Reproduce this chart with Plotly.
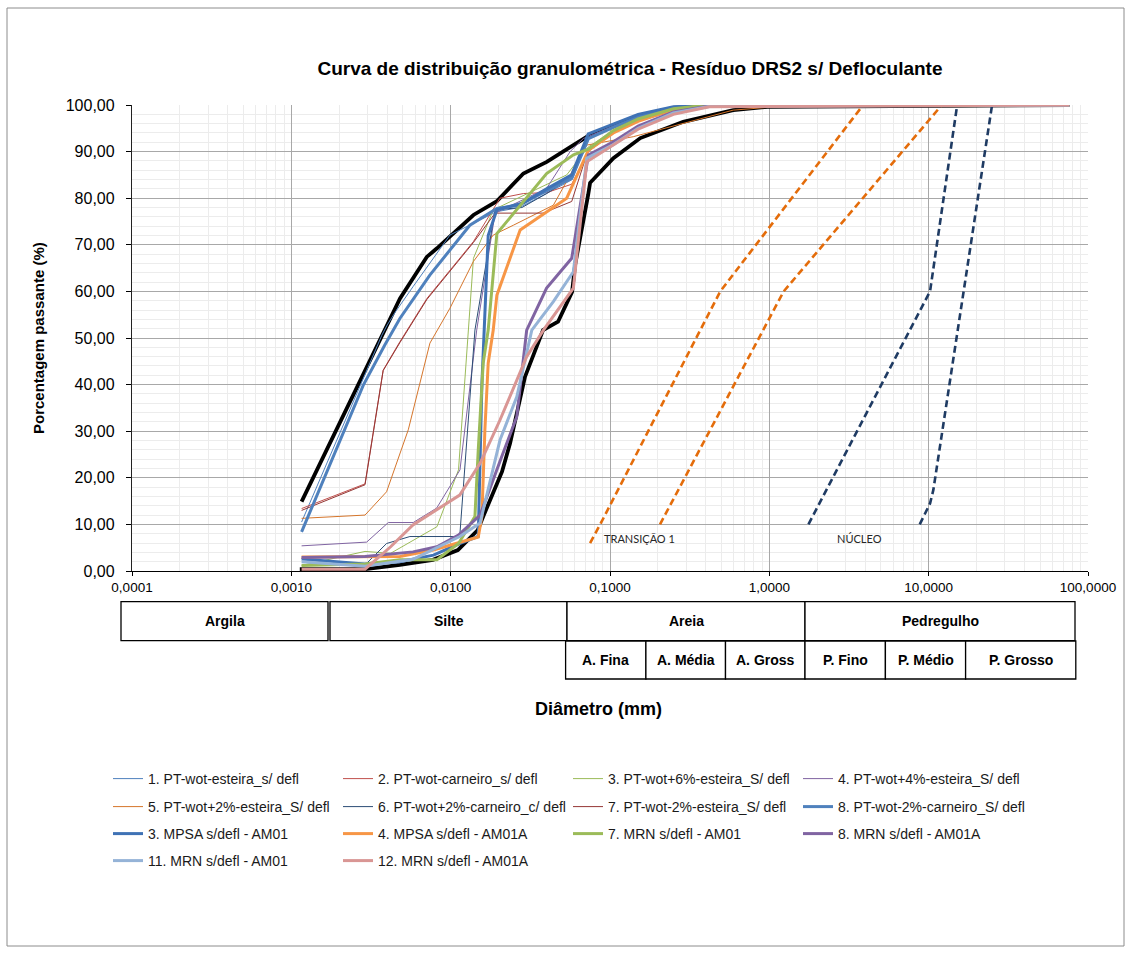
import math
import plotly.graph_objects as go

# ---------------- data (diameter in mm, percent passing) ----------------
x_tick_vals = [0.0001, 0.001, 0.01, 0.1, 1, 10, 100]
x_tick_text = ["0,0001", "0,0010", "0,0100", "0,1000", "1,0000", "10,0000", "100,0000"]
y_tick_vals = [0, 10, 20, 30, 40, 50, 60, 70, 80, 90, 100]
y_tick_text = ["0,00", "10,00", "20,00", "30,00", "40,00", "50,00", "60,00", "70,00", "80,00", "90,00", "100,00"]

# envelope curves (black, no legend)
env_fine_d = [0.00116, 0.00386, 0.00481, 0.00708, 0.00817, 0.0139, 0.0194, 0.0286, 0.0401, 0.0589, 0.075, 0.105, 0.15, 0.25, 0.42, 76.2]
env_fine_p = [14.9, 51.7, 58.5, 67.4, 69.2, 76.4, 79.3, 85.3, 87.8, 91.4, 93.6, 95.4, 97.5, 99.4, 100, 100]
env_coarse_d = [0.00113, 0.0029, 0.0048, 0.00774, 0.0111, 0.0148, 0.016, 0.021, 0.0236, 0.0293, 0.038, 0.0472, 0.0578, 0.0604, 0.0729, 0.075, 0.105, 0.155, 0.288, 0.593, 0.97, 76.2]
env_coarse_p = [0.4, 0.4, 1.3, 2.4, 4.5, 8.8, 11.7, 21.3, 27.4, 41.7, 51.7, 53.5, 59.9, 65.7, 80.7, 83.3, 88.6, 92.9, 96.4, 98.9, 99.6, 100]

# filter zone limits (dashed, no legend)
trans_a_d = [0.075, 0.0868, 0.492, 3.88]
trans_a_p = [6, 10, 60, 100]
trans_b_d = [0.206, 1.23, 12.1]
trans_b_p = [10, 60, 100]
nucleo_a_d = [1.76, 10.2, 15.1]
nucleo_a_p = [10, 60, 100]
nucleo_b_d = [8.79, 10.2, 10.7, 25.0]
nucleo_b_p = [10, 14.5, 17.4, 100]

# laboratory curves
pt1_d = [0.00116, 0.0029, 0.0037, 0.0040, 0.0045, 0.0058, 0.0099, 0.0194, 0.027, 0.040, 0.058, 0.073, 0.105, 0.15, 0.25, 0.42, 76.2]
pt1_p = [10.5, 42.0, 50.6, 52.8, 55.6, 61.0, 72.1, 77.1, 78.0, 81.0, 84.0, 93.0, 95.5, 97.5, 99.2, 100, 100]
pt2_d = [0.00116, 0.0029, 0.00377, 0.0048, 0.0071, 0.0139, 0.0204, 0.0286, 0.040, 0.0575, 0.0732, 0.105, 0.15, 0.25, 0.42, 76.2]
pt2_p = [13.4, 18.7, 43.1, 49.2, 58.5, 70.7, 80.0, 81.0, 81.2, 83.0, 90.0, 94.0, 96.5, 98.7, 99.8, 100]
pt3_d = [0.00116, 0.0029, 0.0042, 0.0082, 0.0112, 0.0129, 0.0139, 0.0185, 0.0535, 0.073, 0.105, 0.15, 0.25, 0.42, 76.2]
pt3_p = [1.2, 4.2, 3.8, 9.5, 21.7, 51.7, 67.1, 77.5, 85.0, 91.0, 94.5, 97.0, 99.0, 100, 100]
pt4_d = [0.00116, 0.00297, 0.00406, 0.00582, 0.00817, 0.01144, 0.01457, 0.019, 0.040, 0.0562, 0.068, 0.105, 0.15, 0.25, 0.42, 76.2]
pt4_p = [5.4, 6.2, 10.4, 10.4, 13.5, 21.7, 51.7, 76.8, 82.1, 90.0, 92.8, 95.5, 97.5, 99.3, 100, 100]
pt5_d = [0.00116, 0.0029, 0.00396, 0.0048, 0.00542, 0.00741, 0.0099, 0.01387, 0.01852, 0.02474, 0.033, 0.0441, 0.0715, 0.14, 0.593, 1.5, 76.2]
pt5_p = [11.3, 12.0, 17.0, 25.3, 30.3, 48.9, 56.4, 66.4, 72.1, 74.2, 76.4, 78.5, 91.4, 93.2, 98.9, 100, 100]
pt6_d = [0.00116, 0.0029, 0.00396, 0.00555, 0.0114, 0.0142, 0.019, 0.028, 0.040, 0.0575, 0.073, 0.105, 0.15, 0.25, 0.42, 76.2]
pt6_p = [2.7, 1.3, 5.9, 7.4, 7.4, 51.7, 77.5, 78.0, 81.0, 84.5, 93.5, 96.0, 98.0, 99.5, 100, 100]
pt7_d = [0.00116, 0.0029, 0.00377, 0.0048, 0.0071, 0.0139, 0.019, 0.038, 0.0575, 0.0732, 0.105, 0.15, 0.25, 0.42, 76.2]
pt7_p = [13.0, 18.5, 43.0, 49.0, 58.3, 70.5, 76.8, 76.8, 79.3, 90.5, 94.5, 97.0, 99.0, 100, 100]
pt8_d = [0.00116, 0.00283, 0.00386, 0.0048, 0.0074, 0.0132, 0.0195, 0.0266, 0.0575, 0.0732, 0.105, 0.15, 0.25, 0.42, 76.2]
pt8_p = [8.4, 39.9, 48.5, 54.2, 63.5, 74.2, 77.8, 78.5, 84.3, 92.8, 95.2, 97.5, 99.3, 100, 100]
mpsa_am01_d = [0.00116, 0.0029, 0.0048, 0.0078, 0.0114, 0.0149, 0.0157, 0.0172, 0.0195, 0.0286, 0.040, 0.0575, 0.073, 0.105, 0.15, 0.25, 0.42, 76.2]
mpsa_am01_p = [2.6, 1.5, 2.0, 3.4, 5.9, 7.4, 40.0, 72.0, 77.5, 79.0, 82.0, 85.0, 93.8, 96.0, 98.0, 99.6, 100, 100]
mpsa_am01a_d = [0.00116, 0.0029, 0.0048, 0.0078, 0.0149, 0.0157, 0.0164, 0.0172, 0.0185, 0.0195, 0.0273, 0.0535, 0.0732, 0.105, 0.15, 0.25, 0.42, 76.2]
mpsa_am01a_p = [3.0, 3.0, 3.1, 4.5, 7.3, 11.7, 30.3, 44.6, 51.7, 59.2, 73.2, 80.0, 90.3, 94.0, 96.5, 99.0, 100, 100]
mrn7_d = [0.00116, 0.0029, 0.0048, 0.0082, 0.0112, 0.0142, 0.0149, 0.016, 0.0172, 0.0195, 0.040, 0.059, 0.0732, 0.105, 0.15, 0.25, 0.42, 76.2]
mrn7_p = [1.2, 1.5, 2.4, 2.4, 5.9, 11.7, 26.0, 44.6, 51.7, 72.4, 85.3, 89.3, 90.5, 94.5, 97.0, 99.2, 100, 100]
mrn8_d = [0.00116, 0.0029, 0.0058, 0.0082, 0.0112, 0.0153, 0.0209, 0.026, 0.030, 0.040, 0.0575, 0.0732, 0.105, 0.15, 0.25, 0.42, 76.2]
mrn8_p = [2.9, 3.1, 4.1, 5.2, 7.7, 12.0, 24.5, 33.1, 51.7, 60.7, 67.1, 89.3, 92.1, 95.5, 98.5, 99.8, 100]
mrn11_d = [0.00116, 0.0029, 0.0058, 0.0114, 0.0153, 0.0204, 0.026, 0.0323, 0.0441, 0.0589, 0.0715, 0.105, 0.15, 0.25, 0.42, 76.2]
mrn11_p = [2.0, 1.0, 2.5, 7.4, 10.3, 28.1, 37.4, 51.7, 57.8, 64.2, 88.6, 91.5, 95.0, 98.3, 99.7, 100]
mrn12_d = [0.00116, 0.0029, 0.0042, 0.0058, 0.0114, 0.0153, 0.0204, 0.030, 0.0382, 0.0589, 0.0715, 0.105, 0.15, 0.25, 0.42, 76.2]
mrn12_p = [0.4, 0.4, 5.2, 9.9, 16.3, 23.1, 32.4, 46.0, 51.7, 60.7, 87.8, 91.4, 94.8, 98.0, 99.6, 100]

# soil classification table
class_top = ["Argila", "Silte", "Areia", "Pedregulho"]
class_bottom = ["A. Fina", "A. Média", "A. Gross", "P. Fino", "P. Médio", "P. Grosso"]

# zone labels
zone_labels = ["TRANSIÇÃO 1", "NÚCLEO"]
zone_label_d = [0.089, 2.59]
zone_label_p = [6.9, 6.9]

# ---------------- layout helpers ----------------
W, H = 1132, 953
PL, PR, PT, PB = 132, 1088, 105, 571
FONT = "Liberation Sans, Arial, Helvetica, sans-serif"


def fx(x):
    return (x - PL) / (PR - PL)


def fy(y):
    return (PB - y) / (PB - PT)


fig = go.Figure()

# envelopes first (drawn underneath)
for d, p in [(env_fine_d, env_fine_p), (env_coarse_d, env_coarse_p)]:
    fig.add_trace(go.Scatter(x=d, y=p, mode="lines", showlegend=False, hoverinfo="skip",
                             line=dict(color="#000000", width=3.8)))

for d, p, c in [(trans_a_d, trans_a_p, "#E46C0A"), (trans_b_d, trans_b_p, "#E46C0A"),
                (nucleo_a_d, nucleo_a_p, "#1F3B63"), (nucleo_b_d, nucleo_b_p, "#1F3B63")]:
    fig.add_trace(go.Scatter(x=d, y=p, mode="lines", showlegend=False, hoverinfo="skip",
                             line=dict(color=c, width=2.6, dash="7px,4px")))

series = [
    ("1. PT-wot-esteira_s/ defl", pt1_d, pt1_p, "#4F81BD", 1.0, "legend"),
    ("2. PT-wot-carneiro_s/ defl", pt2_d, pt2_p, "#C0504D", 1.0, "legend"),
    ("3. PT-wot+6%-esteira_S/ defl", pt3_d, pt3_p, "#9BBB59", 1.0, "legend"),
    ("4. PT-wot+4%-esteira_S/ defl", pt4_d, pt4_p, "#8064A2", 1.0, "legend"),
    ("5. PT-wot+2%-esteira_S/ defl", pt5_d, pt5_p, "#D5752B", 1.0, "legend2"),
    ("6. PT-wot+2%-carneiro_c/ defl", pt6_d, pt6_p, "#2C4D75", 1.0, "legend2"),
    ("7. PT-wot-2%-esteira_S/ defl", pt7_d, pt7_p, "#953735", 1.0, "legend2"),
    ("8. PT-wot-2%-carneiro_S/ defl", pt8_d, pt8_p, "#4F81BD", 3.0, "legend2"),
    ("3. MPSA s/defl - AM01", mpsa_am01_d, mpsa_am01_p, "#3F72B5", 3.0, "legend3"),
    ("4. MPSA s/defl - AM01A", mpsa_am01a_d, mpsa_am01a_p, "#F79646", 3.0, "legend3"),
    ("7. MRN s/defl - AM01", mrn7_d, mrn7_p, "#9BBB59", 3.0, "legend3"),
    ("8. MRN s/defl - AM01A", mrn8_d, mrn8_p, "#8064A2", 3.0, "legend3"),
    ("11. MRN s/defl - AM01", mrn11_d, mrn11_p, "#95B3D7", 3.0, "legend4"),
    ("12. MRN s/defl - AM01A", mrn12_d, mrn12_p, "#D99694", 3.0, "legend4"),
]
for name, d, p, color, w, leg in series:
    fig.add_trace(go.Scatter(x=d, y=p, mode="lines", name=name, legend=leg,
                             line=dict(color=color, width=w)))

# minor gridlines positions (2..9 of each decade)
minor_x = [k * 10.0 ** e for e in range(-4, 2) for k in range(2, 10)]

fig.update_layout(
    width=W, height=H,
    margin=dict(l=PL, r=W - PR, t=PT, b=H - PB, autoexpand=False),
    paper_bgcolor="white", plot_bgcolor="white",
    font=dict(family=FONT, color="#000000"),
    title=dict(text="<b>Curva de distribuição granulométrica - Resíduo DRS2 s/ Defloculante</b>",
               x=fx(630), xref="paper", xanchor="center", y=1 - 68 / H, yanchor="middle",
               font=dict(size=19, family=FONT, color="#000000")),
    xaxis=dict(type="log", range=[-4, 2], tickmode="array", tickvals=x_tick_vals, ticktext=x_tick_text,
               ticks="outside", ticklen=4, tickcolor="#000000", tickwidth=1,
               showline=True, linecolor="#000000", linewidth=1.3,
               showgrid=True, gridcolor="#A8A8A8", gridwidth=1, zeroline=False,
               tickfont=dict(size=13.5, family=FONT, color="#000000"),
               minor=dict(tickmode="array", tickvals=minor_x, showgrid=True,
                          gridcolor="#ECECEC", gridwidth=1, ticks="")),
    yaxis=dict(range=[0, 100], tickmode="array", tickvals=y_tick_vals, ticktext=y_tick_text,
               ticks="outside", ticklen=5, tickcolor="#000000", tickwidth=1,
               showline=True, linecolor="#222222", linewidth=1.3,
               showgrid=True, gridcolor="#A8A8A8", gridwidth=1, zeroline=False,
               tickfont=dict(size=16, family=FONT, color="#000000"), ticklabelstandoff=8,
               minor=dict(dtick=2, showgrid=True, gridcolor="#ECECEC", gridwidth=1, ticks="")),
    showlegend=True,
)

row_y = [779, 807, 834, 861]
for i, lg in enumerate(["legend", "legend2", "legend3", "legend4"]):
    fig.update_layout({lg: dict(orientation="h", x=fx(108), xanchor="left", xref="paper",
                                y=fy(row_y[i]), yanchor="middle", yref="paper",
                                entrywidth=185, entrywidthmode="pixels", itemwidth=30,
                                bgcolor="rgba(0,0,0,0)", borderwidth=0, traceorder="normal",
                                font=dict(size=14, family=FONT, color="#1A1A1A"))})

shapes = []
annotations = []

# outer chart border
shapes.append(dict(type="rect", xref="paper", yref="paper", x0=fx(7), x1=fx(1124), y0=fy(946), y1=fy(8),
                   line=dict(color="#8C8C8C", width=1), fillcolor="rgba(0,0,0,0)", layer="below"))

# classification table (pixel edges -> paper)
top_edges = [(121, 328), (330, 567), (567, 805), (805, 1075)]
bot_edges = [565.6, 645.9, 725.5, 805, 885.4, 965.6, 1075.8]
r1 = (601.7, 640.7)
r2 = (641.0, 679.0)
for (a, b), lab in zip(top_edges, class_top):
    shapes.append(dict(type="rect", xref="paper", yref="paper", x0=fx(a), x1=fx(b), y0=fy(r1[1]), y1=fy(r1[0]),
                       line=dict(color="#000000", width=1.3), fillcolor="white"))
    annotations.append(dict(text="<b>%s</b>" % lab, xref="paper", yref="paper", x=fx((a + b) / 2),
                            y=fy(sum(r1) / 2), showarrow=False, xanchor="center", yanchor="middle",
                            font=dict(size=14, family=FONT, color="#000000")))
for i, lab in enumerate(class_bottom):
    a, b = bot_edges[i], bot_edges[i + 1]
    shapes.append(dict(type="rect", xref="paper", yref="paper", x0=fx(a), x1=fx(b), y0=fy(r2[1]), y1=fy(r2[0]),
                       line=dict(color="#000000", width=1.3), fillcolor="white"))
    annotations.append(dict(text="<b>%s</b>" % lab, xref="paper", yref="paper", x=fx((a + b) / 2),
                            y=fy(sum(r2) / 2), showarrow=False, xanchor="center", yanchor="middle",
                            font=dict(size=14, family=FONT, color="#000000")))

# axis titles
annotations.append(dict(text="<b>Diâmetro (mm)</b>", xref="paper", yref="paper", x=fx(598), y=fy(709),
                        showarrow=False, xanchor="center", yanchor="middle",
                        font=dict(size=18, family=FONT, color="#000000")))
annotations.append(dict(text="<b>Porcentagem passante (%)</b>", xref="paper", yref="paper", x=fx(38), y=fy(338),
                        showarrow=False, xanchor="center", yanchor="middle", textangle=-90,
                        font=dict(size=15, family=FONT, color="#000000")))

# zone labels
for lab, d, p in zip(zone_labels, zone_label_d, zone_label_p):
    annotations.append(dict(text=lab, x=math.log10(d), y=p, xref="x", yref="y", showarrow=False,
                            xanchor="left", yanchor="middle",
                            font=dict(size=11, family="Lato, Open Sans, sans-serif", color="#262626")))

fig.update_layout(shapes=shapes, annotations=annotations)

fig.write_html("out.html", config={"displayModeBar": False},
               post_script="document.body.style.margin='0';")
